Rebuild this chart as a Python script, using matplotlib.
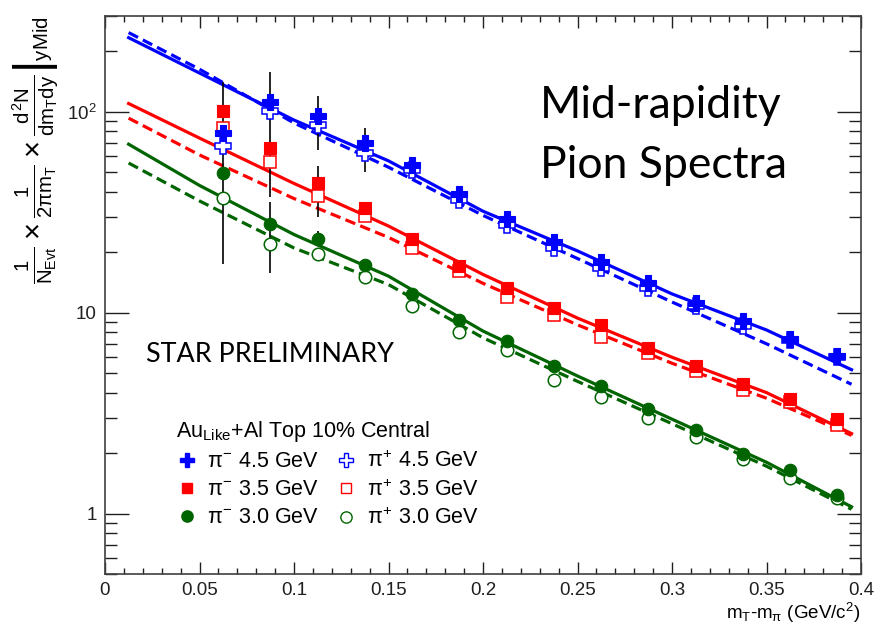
import numpy as np
import matplotlib
matplotlib.use('Agg')
import matplotlib.pyplot as plt
from matplotlib.lines import Line2D
from matplotlib.ticker import MultipleLocator, FixedLocator, FixedFormatter, FuncFormatter, LogLocator, NullFormatter

# ----------------------------------------------------------------------------------------------------------------
# Mid-rapidity pion spectra, Au_Like+Al top 10% central, three beam energies
# ----------------------------------------------------------------------------------------------------------------

# mT - m_pi bin centres (GeV/c^2)
mt = [0.0625, 0.0875, 0.1125, 0.1375, 0.1625, 0.1875, 0.2125,
      0.2375, 0.2625, 0.2875, 0.3125, 0.3375, 0.3625, 0.3875]

# invariant yields
pim_45 = [78.5, 112, 95.5, 70, 54.3, 38.9, 29.2, 22.4, 17.8, 14.0, 11.2, 9.1, 7.4, 6.1]
pip_45 = [67.6, 101, 86, 62.4, 51.3, 36.3, 27.2, 20.9, 16.6, 13.3, 10.8, 8.6, 7.3, 6.0]
pim_35 = [101, 66, 44.2, 33.1, 23.2, 17.0, 13.3, 10.6, 8.7, 6.7, 5.4, 4.4, 3.7, 2.95]
pip_35 = [83, 56, 38, 30.2, 20.9, 16.2, 12.0, 9.7, 7.6, 6.3, 5.1, 4.1, 3.6, 2.75]
pim_30 = [49.5, 27.5, 23.4, 17.2, 12.4, 9.2, 7.2, 5.4, 4.3, 3.3, 2.6, 1.97, 1.64, 1.23]
pip_30 = [37.2, 22.1, 19.7, 15.0, 10.8, 8.0, 6.5, 4.6, 3.8, 3.0, 2.4, 1.86, 1.5, 1.19]

# vertical error bars (x, low, high)
err_x = [0.0625, 0.0875, 0.0875, 0.1125, 0.1125, 0.1125, 0.1375]
err_lo = [17.5, 37.6, 15.7, 64.6, 29.9, 21.5, 50]
err_hi = [140, 157, 35.5, 120, 53.7, 25.5, 83]

# fit curves (solid: pi-, dashed: pi+)
fit_x = [0.0125, 0.05, 0.1, 0.15, 0.2, 0.25, 0.3, 0.35, 0.395]
fit_pim_45 = [234, 156, 91, 57, 32, 20.3, 12.4, 8.2, 5.2]
fit_pip_45 = [248, 163, 88, 53, 30.5, 18.6, 11.3, 7.0, 4.4]
fit_pim_35 = [110, 74, 44, 27, 15.5, 9.4, 6.0, 4.0, 2.5]
fit_pip_35 = [93, 61, 37, 23.7, 14.0, 8.7, 5.6, 3.75, 2.45]
fit_pim_30 = [69, 43, 24.5, 15.2, 8.1, 4.84, 2.95, 1.8, 1.08]
fit_pip_30 = [55.6, 36, 21, 13.8, 7.5, 4.55, 2.8, 1.72, 1.05]

energies = ['4.5', '3.5', '3.0']
colors = ['#0000ff', '#ff0000', '#006400']
markers = ['P', 's', 'o']
msizes = [11, 8.5, 9]

# ----------------------------------------------------------------------------------------------------------------
plt.rcParams['font.family'] = ['Liberation Sans', 'DejaVu Sans']
plt.rcParams['mathtext.fontset'] = 'custom'
plt.rcParams['mathtext.rm'] = 'Liberation Sans'
plt.rcParams['mathtext.it'] = 'Liberation Sans'
plt.rcParams['mathtext.bf'] = 'Liberation Sans:bold'

fig = plt.figure(figsize=(8.76, 6.34), dpi=100)
ax = fig.add_axes([105/876, 60/634, 756/876, 558/634])

lw, dsh = 2.3, (3.3, 1.7)
fits_m = [fit_pim_45, fit_pim_35, fit_pim_30]
fits_p = [fit_pip_45, fit_pip_35, fit_pip_30]
for i in range(3):
    ax.plot(fit_x, fits_m[i], color=colors[i], lw=lw, zorder=2)
    ax.plot(fit_x, fits_p[i], color=colors[i], lw=lw, dashes=dsh, zorder=2)

ax.vlines(err_x, err_lo, err_hi, color='black', lw=1.2, zorder=3)

pts_m = [pim_45, pim_35, pim_30]
pts_p = [pip_45, pip_35, pip_30]
for i in range(3):
    ax.plot(mt, pts_p[i], ls='none', marker=markers[i], ms=msizes[i],
            mfc='white', mec=colors[i], mew=1.1, zorder=4)
    ax.plot(mt, pts_m[i], ls='none', marker=markers[i], ms=msizes[i],
            mfc=colors[i], mec=colors[i], mew=0.8, zorder=5)

ax.set_yscale('log')
ax.set_xlim(0, 0.4)
ax.set_ylim(0.5, 300)

# ROOT-like frame and ticks
for s in ax.spines.values():
    s.set_linewidth(1.2)
    s.set_color('#404040')
ax.xaxis.set_major_locator(MultipleLocator(0.05))
ax.xaxis.set_minor_locator(MultipleLocator(0.01))
ax.xaxis.set_major_formatter(FuncFormatter(lambda v, p: '%g' % round(v, 3)))
ax.yaxis.set_major_locator(FixedLocator([1, 10, 100]))
ax.yaxis.set_major_formatter(FixedFormatter(['1', '10', '$10^{2}$']))
ax.yaxis.set_minor_locator(LogLocator(base=10, subs=np.arange(2, 10)))
ax.yaxis.set_minor_formatter(NullFormatter())
ax.tick_params(axis='both', which='both', direction='in', top=True, right=True,
               colors='#202020', width=1.0, labelsize=13.5)
ax.tick_params(axis='x', which='major', length=8.5, pad=6)
ax.tick_params(axis='x', which='minor', length=4.3)
ax.tick_params(axis='y', which='major', length=17, pad=6)
ax.tick_params(axis='y', which='minor', length=8.6)

ax.set_xlabel(r'$m_{T}$-$m_{\pi}$ (GeV/$c^{2}$)', fontsize=13.5, loc='right', labelpad=1)
ax.set_ylabel(r'$\frac{1}{N_{Evt}}\times\frac{1}{2\pi m_{T}}\times\left.\frac{d^{2}N}{dm_{T}dy}\right|_{yMid}$',
              fontsize=21, loc='top', labelpad=4)

# annotations
ax.text(0.575, 0.817, 'Mid-rapidity', transform=ax.transAxes, fontsize=32,
        family=['Lato', 'DejaVu Sans'], ha='left', va='baseline')
ax.text(0.575, 0.71, 'Pion Spectra', transform=ax.transAxes, fontsize=32,
        family=['Lato', 'DejaVu Sans'], ha='left', va='baseline')
ax.text(0.054, 0.38, 'STAR PRELIMINARY', transform=ax.transAxes, fontsize=19.4,
        family=['Lato', 'DejaVu Sans'], ha='left', va='baseline')

# legend, pi- in the first column and pi+ in the second
handles, labels = [], []
for i in range(3):
    handles.append(Line2D([], [], ls='none', marker=markers[i], ms=msizes[i] * 0.9,
                          mfc=colors[i], mec=colors[i]))
    labels.append(r'$\pi^{-}$ ' + energies[i] + ' GeV')
for i in range(3):
    handles.append(Line2D([], [], ls='none', marker=markers[i], ms=msizes[i] * 0.9,
                          mfc='white', mec=colors[i], mew=1.0))
    labels.append(r'$\pi^{+}$ ' + energies[i] + ' GeV')
leg = ax.legend(handles, labels, ncol=2, frameon=False, fontsize=15.5,
                title=r'Au$_{\mathrm{Like}}$+Al Top 10% Central', title_fontsize=15.5,
                alignment='left', loc='upper left', bbox_to_anchor=(0.074, 1 - 388/558),
                handlelength=1.0, handletextpad=0.45, columnspacing=0.75,
                labelspacing=0.32, borderpad=0.2)

fig.savefig('out.png', dpi=100)
